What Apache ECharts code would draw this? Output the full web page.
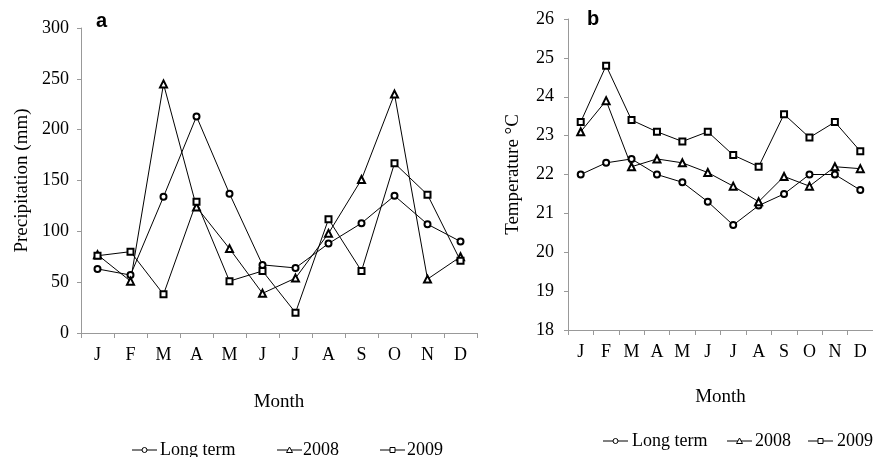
<!DOCTYPE html>
<html><head><meta charset="utf-8">
<script src="https://cdn.jsdelivr.net/npm/echarts@6/dist/echarts.min.js"></script>
<style>html,body{margin:0;padding:0;background:#fff}#c{width:873px;height:457px}</style>
</head><body><div id="c"></div>
<script>
const months = ['J','F','M','A','M','J','J','A','S','O','N','D'];
const seriesNames = ['Long term','2008','2009'];
const precipLongTerm = [63,57,134,213,137,67,64,88,108,135,107,90];
const precip2008 = [77,51,245,124,83,39,54,98,151,235,53,75];
const precip2009 = [76,80,38,129,51,61,20,112,61,167,136,71];
const tempLongTerm = [22.0,22.3,22.4,22.0,21.8,21.3,20.7,21.2,21.5,22.0,22.0,21.6];
const temp2008 = [23.1,23.9,22.2,22.4,22.3,22.05,21.7,21.3,21.95,21.7,22.2,22.15];
const temp2009 = [23.35,24.8,23.4,23.1,22.85,23.1,22.5,22.2,23.55,22.95,23.35,22.6];
const precipTicks = {min:0,max:300,interval:50};
const tempTicks = {min:18,max:26,interval:1};

const font = 'Liberation Serif';
const symbols = ['emptyCircle','emptyTriangle','emptyRect'];
const chart = echarts.init(document.getElementById('c'));
function xAx(gi, gap){
  return {type:'category',gridIndex:gi,data:months,boundaryGap:true,
    name:'Month',nameLocation:'middle',nameGap:gap,
    nameTextStyle:{fontFamily:font,fontSize:19,color:'#000'},
    axisLine:{lineStyle:{color:'#999',width:1}},
    axisTick:{show:true,alignWithLabel:false,length:5,lineStyle:{color:'#999'}},
    axisLabel:{fontFamily:font,fontSize:18,color:'#000',margin:13,interval:0}};
}
function yAx(gi, t, name, gap, margin){
  return {type:'value',gridIndex:gi,min:t.min,max:t.max,interval:t.interval,
    name:name,nameLocation:'middle',nameGap:gap,nameRotate:90,
    nameTextStyle:{fontFamily:font,fontSize:19,color:'#000'},
    splitLine:{show:false},
    axisLine:{show:true,lineStyle:{color:'#999',width:1}},
    axisTick:{show:true,length:4,lineStyle:{color:'#999'}},
    axisLabel:{fontFamily:font,fontSize:18,color:'#000',margin:margin}};
}
function ser(name, data, i, gi){
  return {name:name,type:'line',xAxisIndex:gi,yAxisIndex:gi,data:data,
    symbol:symbols[i],symbolSize:i===1?7:6,showAllSymbol:true,
    lineStyle:{color:'#000',width:1},itemStyle:{color:'#000',borderColor:'#000',borderWidth:1},
    emphasis:{disabled:true},animation:false};
}
function legendGroup(left, top, pos){
  const ch = [];
  const markers = [
    c => ({type:'circle',shape:{cx:c,cy:8,r:2.5},style:{fill:'#fff',stroke:'#000',lineWidth:1}}),
    c => ({type:'polygon',shape:{points:[[c,5],[c-3,10.5],[c+3,10.5]]},style:{fill:'#fff',stroke:'#000',lineWidth:1}}),
    c => ({type:'rect',shape:{x:c-2.5,y:5.5,width:5,height:5},style:{fill:'#fff',stroke:'#000',lineWidth:1}})
  ];
  for(let i=0;i<3;i++){
    const x0 = pos[i*2], tx = pos[i*2+1];
    ch.push({type:'line',shape:{x1:x0,y1:8,x2:x0+25,y2:8},style:{stroke:'#000',lineWidth:1}});
    ch.push(markers[i](x0+12.5));
    ch.push({type:'text',x:tx,y:-1,style:{text:seriesNames[i],font:'18px "Liberation Serif"',fill:'#000'}});
  }
  return {type:'group',x:left,y:top,children:ch};
}
chart.setOption({
  animation:false,
  grid:[{left:81,top:28,width:396,height:305},{left:568,top:19,width:305,height:311}],
  xAxis:[xAx(0,60),xAx(1,58)],
  yAxis:[yAx(0,precipTicks,'Precipitation (mm)',49,12),yAx(1,tempTicks,'Temperature °C',45,14)],
  series:[
    ser(seriesNames[0],precipLongTerm,0,0),
    ser(seriesNames[1],precip2008,1,0),
    ser(seriesNames[2],precip2009,2,0),
    ser(seriesNames[0],tempLongTerm,0,1),
    ser(seriesNames[1],temp2008,1,1),
    ser(seriesNames[2],temp2009,2,1)
  ],
  graphic:[
    {type:'text',left:96,top:11,style:{text:'a',font:'bold 20px "Liberation Sans"',fill:'#000'}},
    {type:'text',left:587,top:9,style:{text:'b',font:'bold 20px "Liberation Sans"',fill:'#000'}},
    legendGroup(0, 442, [132,160, 277,303, 380,407]),
    legendGroup(0, 433, [603,632, 727,755, 808,837])
  ]
});
</script></body></html>
